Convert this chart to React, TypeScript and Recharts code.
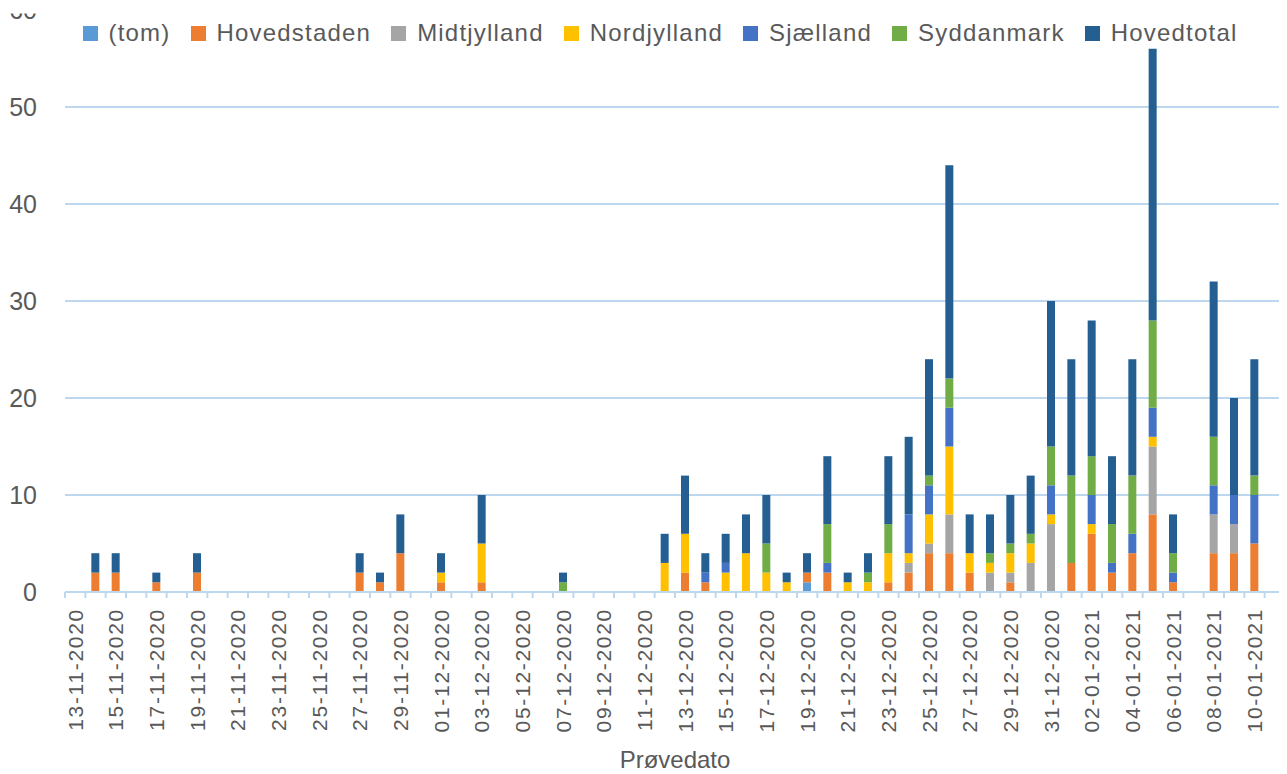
import React from 'react';
import { BarChart, Bar, XAxis, YAxis, CartesianGrid, Legend } from 'recharts';

const CATEGORIES = [
  '13-11-2020','14-11-2020','15-11-2020','16-11-2020','17-11-2020','18-11-2020','19-11-2020','20-11-2020','21-11-2020','22-11-2020',
  '23-11-2020','24-11-2020','25-11-2020','26-11-2020','27-11-2020','28-11-2020','29-11-2020','30-11-2020','01-12-2020','02-12-2020',
  '03-12-2020','04-12-2020','05-12-2020','06-12-2020','07-12-2020','08-12-2020','09-12-2020','10-12-2020','11-12-2020','12-12-2020',
  '13-12-2020','14-12-2020','15-12-2020','16-12-2020','17-12-2020','18-12-2020','19-12-2020','20-12-2020','21-12-2020','22-12-2020',
  '23-12-2020','24-12-2020','25-12-2020','26-12-2020','27-12-2020','28-12-2020','29-12-2020','30-12-2020','31-12-2020','01-01-2021',
  '02-01-2021','03-01-2021','04-01-2021','05-01-2021','06-01-2021','07-01-2021','08-01-2021','09-01-2021','10-01-2021','11-01-2021',
];

const TOM = [
  0,0,0,0,0,0,0,0,0,0,
  0,0,0,0,0,0,0,0,0,0,
  0,0,0,0,0,0,0,0,0,0,
  0,0,0,0,0,0,1,0,0,0,
  0,0,0,0,0,0,0,0,0,0,
  0,0,0,0,0,0,0,0,0,0,
];
const HOVEDSTADEN = [
  0,2,2,0,1,0,2,0,0,0,
  0,0,0,0,2,1,4,0,1,0,
  1,0,0,0,0,0,0,0,0,0,
  2,1,0,0,0,0,1,2,0,0,
  1,2,4,4,2,0,1,0,0,3,
  6,2,4,8,1,0,4,4,5,0,
];
const MIDTJYLLAND = [
  0,0,0,0,0,0,0,0,0,0,
  0,0,0,0,0,0,0,0,0,0,
  0,0,0,0,0,0,0,0,0,0,
  0,0,0,0,0,0,0,0,0,0,
  0,1,1,4,0,2,1,3,7,0,
  0,0,0,7,0,0,4,3,0,0,
];
const NORDJYLLAND = [
  0,0,0,0,0,0,0,0,0,0,
  0,0,0,0,0,0,0,0,1,0,
  4,0,0,0,0,0,0,0,0,3,
  4,0,2,4,2,1,0,0,1,1,
  3,1,3,7,2,1,2,2,1,0,
  1,0,0,1,0,0,0,0,0,0,
];
const SJAELLAND = [
  0,0,0,0,0,0,0,0,0,0,
  0,0,0,0,0,0,0,0,0,0,
  0,0,0,0,0,0,0,0,0,0,
  0,1,1,0,0,0,0,1,0,0,
  0,4,3,4,0,0,0,0,3,0,
  3,1,2,3,1,0,3,3,5,0,
];
const SYDDANMARK = [
  0,0,0,0,0,0,0,0,0,0,
  0,0,0,0,0,0,0,0,0,0,
  0,0,0,0,1,0,0,0,0,0,
  0,0,0,0,3,0,0,4,0,1,
  3,0,1,3,0,1,1,1,4,9,
  4,4,6,9,2,0,5,0,2,0,
];
const HOVEDTOTAL = [
  0,2,2,0,1,0,2,0,0,0,
  0,0,0,0,2,1,4,0,2,0,
  5,0,0,0,1,0,0,0,0,3,
  6,2,3,4,5,1,2,7,1,2,
  7,8,12,22,4,4,5,6,15,12,
  14,7,12,28,4,0,16,10,12,0,
];

const Y_TICKS = [0, 10, 20, 30, 40, 50, 60];
const GRID_VALUES = [0, 10, 20, 30, 40, 50];

const SERIES = [
  { key: 'tom', name: '(tom)', color: '#5B9BD5', values: TOM },
  { key: 'hovedstaden', name: 'Hovedstaden', color: '#ED7D31', values: HOVEDSTADEN },
  { key: 'midtjylland', name: 'Midtjylland', color: '#A5A5A5', values: MIDTJYLLAND },
  { key: 'nordjylland', name: 'Nordjylland', color: '#FFC000', values: NORDJYLLAND },
  { key: 'sjaelland', name: 'Sjælland', color: '#4472C4', values: SJAELLAND },
  { key: 'syddanmark', name: 'Syddanmark', color: '#70AD47', values: SYDDANMARK },
  { key: 'hovedtotal', name: 'Hovedtotal', color: '#255E91', values: HOVEDTOTAL },
];

const data = CATEGORIES.map((date, i) => {
  const row: Record<string, any> = { date };
  SERIES.forEach((s) => { row[s.key] = s.values[i]; });
  return row;
});

const TEXT = '#595959';
const GRID = '#BDD7EE';
const FONT = '"Liberation Sans", Arial, sans-serif';

const XTick = (props: any) => {
  const { x, y, index, payload, width } = props;
  const n = CATEGORIES.length;
  const band = typeof width === 'number' && width > 0 ? width / n : 20.33;
  const half = band / 2;
  const ty = y + 16;
  return (
    <g>
      <line x1={x - half} x2={x - half} y1={y} y2={y + 6} stroke={GRID} strokeWidth={2} />
      {index === n - 1 && (
        <line x1={x + half} x2={x + half} y1={y} y2={y + 6} stroke={GRID} strokeWidth={2} />
      )}
      {index % 2 === 0 && (
        <text
          x={x}
          y={ty}
          transform={`rotate(-90 ${x} ${ty})`}
          textAnchor="end"
          dy="0.36em"
          fontSize={21}
          letterSpacing={1.7}
          fill={TEXT}
          fontFamily={FONT}
        >
          {payload.value}
        </text>
      )}
    </g>
  );
};

const YTick = (props: any) => {
  const { x, y, payload } = props;
  const clipped = payload.value === 60;
  return (
    <g>
      {clipped && (
        <defs>
          <clipPath id="yclip60">
            <rect x={x - 80} y={y + 3.5} width={100} height={40} />
          </clipPath>
        </defs>
      )}
      <text
        x={x}
        y={y}
        dy="0.36em"
        textAnchor="end"
        fontSize={25}
        fill={TEXT}
        fontFamily={FONT}
        clipPath={clipped ? 'url(#yclip60)' : undefined}
      >
        {payload.value}
      </text>
    </g>
  );
};

const LegendContent = () => (
  <div
    style={{
      display: 'flex',
      justifyContent: 'center',
      alignItems: 'center',
      height: 30,
      fontFamily: FONT,
      fontSize: 24,
      letterSpacing: 1.2,
      color: TEXT,
      whiteSpace: 'nowrap',
    }}
  >
    {SERIES.map((s, i) => (
      <div
        key={s.key}
        style={{ display: 'flex', alignItems: 'center', marginLeft: i === 0 ? 0 : 20 }}
      >
        <span
          style={{ display: 'inline-block', width: 15, height: 15, background: s.color, marginRight: 11 }}
        />
        <span style={{ lineHeight: '30px' }}>{s.name}</span>
      </div>
    ))}
  </div>
);

export default function App() {
  return (
    <div style={{ marginLeft: -8, marginTop: -8, width: 1287, height: 774, background: '#fff' }}>
      <BarChart
        width={1287}
        height={774}
        data={data}
        margin={{ top: 10, right: 2, left: 0, bottom: 0 }}
        style={{ fontFamily: FONT }}
      >
        <CartesianGrid
          vertical={false}
          stroke={GRID}
          strokeWidth={2}
          horizontalValues={GRID_VALUES}
        />
        <XAxis
          dataKey="date"
          interval={0}
          height={182}
          tickLine={false}
          tickSize={0}
          tickMargin={0}
          axisLine={{ stroke: GRID, strokeWidth: 2 }}
          tick={<XTick />}
          label={{ value: 'Prøvedato', position: 'insideBottom', offset: 6, fill: TEXT, fontSize: 24, fontFamily: FONT }}
        />
        <YAxis
          width={65}
          domain={[0, 60]}
          ticks={Y_TICKS}
          interval={0}
          axisLine={false}
          tickLine={false}
          tickSize={0}
          tickMargin={28}
          tick={<YTick />}
        />
        <Legend
          verticalAlign="middle"
          layout="horizontal"
          content={<LegendContent />}
          wrapperStyle={{ top: 18, left: 33, width: 1254, height: 30 }}
        />
        {SERIES.map((s) => (
          <Bar
            key={s.key}
            dataKey={s.key}
            name={s.name}
            stackId="a"
            fill={s.color}
            barSize={8}
            isAnimationActive={false}
          />
        ))}
      </BarChart>
    </div>
  );
}
